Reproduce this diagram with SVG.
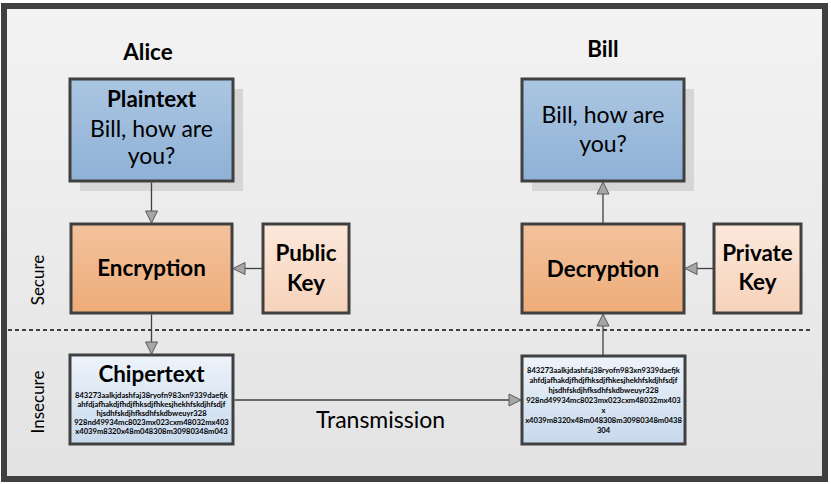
<svg xmlns="http://www.w3.org/2000/svg" width="831" height="484" viewBox="0 0 831 484">
<defs>
<linearGradient id="bg" x1="0" y1="0" x2="0" y2="1"><stop offset="0" stop-color="#f3f3f3"/><stop offset="1" stop-color="#e3e3e3"/></linearGradient>
<linearGradient id="blue" x1="0" y1="0" x2="0" y2="1"><stop offset="0" stop-color="#abc6e2"/><stop offset="1" stop-color="#8eb1d6"/></linearGradient>
<linearGradient id="orange" x1="0" y1="0" x2="0" y2="1"><stop offset="0" stop-color="#f3c29d"/><stop offset="1" stop-color="#eeac78"/></linearGradient>
<linearGradient id="peach" x1="0" y1="0" x2="0" y2="1"><stop offset="0" stop-color="#fce8da"/><stop offset="1" stop-color="#f6d2ba"/></linearGradient>
<linearGradient id="ice" x1="0" y1="0" x2="0" y2="1"><stop offset="0" stop-color="#edf3fa"/><stop offset="1" stop-color="#c8d9ed"/></linearGradient>
<marker id="ah" markerUnits="userSpaceOnUse" markerWidth="16" markerHeight="16" viewBox="0 0 16 16" refX="14" refY="8" orient="auto">
<path d="M2,2 L14,8 L2,14 Z" fill="#a6a6a6" stroke="#5a5a5a" stroke-width="1"/>
</marker>
<style>
.box{stroke:#404040;stroke-width:3}
.shadow{fill:#d6d6d6}
.t{font-family:Lato,"Open Sans",sans-serif;fill:#000;text-anchor:middle;font-size:23px}
.b{font-weight:bold;font-size:22.4px}
.small{font-family:Lato,"Open Sans",sans-serif;font-size:7.6px;font-weight:bold;text-anchor:middle;fill:#000}
.side{font-family:Lato,"Open Sans",sans-serif;font-size:17px;fill:#000;text-anchor:middle}
.conn{stroke:#404040;stroke-width:1.3;fill:none;marker-end:url(#ah)}
</style>
</defs>
<rect x="4" y="6" width="821" height="473" fill="url(#bg)" stroke="#404040" stroke-width="6"/>
<line x1="8" y1="330" x2="813" y2="330" stroke="#404040" stroke-width="2" stroke-dasharray="4,3"/>
<text class="side" transform="translate(44,280) rotate(-90)">Secure</text>
<text class="side" transform="translate(44,402) rotate(-90)">Insecure</text>
<text class="t b" x="148" y="60">Alice</text>
<text class="t b" x="603" y="57">Bill</text>
<g id="plaintext">
<rect class="shadow" x="80" y="89" width="163" height="102"/>
<rect class="box" x="70" y="79" width="163" height="102" fill="url(#blue)"/>
<text class="t b" x="151.5" y="107">Plaintext</text>
<text class="t" x="151.5" y="137">Bill, how are</text>
<text class="t" x="151.5" y="164">you?</text>
</g>
<g id="bill-msg">
<rect class="shadow" x="532" y="89" width="162" height="102"/>
<rect class="box" x="522" y="79" width="162" height="102" fill="url(#blue)"/>
<text class="t" x="603" y="123">Bill, how are</text>
<text class="t" x="603" y="152">you?</text>
</g>
<g id="encryption">
<rect class="box" x="71" y="224" width="161" height="89" fill="url(#orange)"/>
<text class="t b" x="151.5" y="276">Encryption</text>
</g>
<g id="public-key">
<rect class="box" x="263" y="224" width="86" height="89" fill="url(#peach)"/>
<text class="t b" x="306" y="261">Public</text>
<text class="t b" x="306" y="291">Key</text>
</g>
<g id="decryption">
<rect class="box" x="522" y="224" width="162" height="89" fill="url(#orange)"/>
<text class="t b" x="603" y="277">Decryption</text>
</g>
<g id="private-key">
<rect class="box" x="714" y="224" width="87" height="89" fill="url(#peach)"/>
<text class="t b" x="757.5" y="261">Private</text>
<text class="t b" x="757.5" y="290">Key</text>
</g>
<g id="chipertext">
<rect class="box" x="70" y="355" width="163" height="89" fill="url(#ice)"/>
<text class="t b" x="151.5" y="382">Chipertext</text>
<text class="small" x="151.5" y="398">843273aalkjdashfaj38ryofn983xn9339daefjk</text>
<text class="small" x="151.5" y="407">ahfdjafhakdjfhdjfhksdjfhkesjhekhfskdjhfsdjf</text>
<text class="small" x="151.5" y="416">hjsdhfskdjhfksdhfskdbweuyr328</text>
<text class="small" x="151.5" y="425">928nd49934mc8023mx023cxm48032mx403</text>
<text class="small" x="151.5" y="434">x4039m8320x48m048308m30980348m043</text>
</g>
<g id="received">
<rect class="box" x="522" y="356" width="163" height="88" fill="url(#ice)"/>
<text class="small" x="603.5" y="373">843273aalkjdashfaj38ryofn983xn9339daefjk</text>
<text class="small" x="603.5" y="383">ahfdjafhakdjfhdjfhksdjfhkesjhekhfskdjhfsdjf</text>
<text class="small" x="603.5" y="393">hjsdhfskdjhfksdhfskdbweuyr328</text>
<text class="small" x="603.5" y="403">928nd49934mc8023mx023cxm48032mx403</text>
<text class="small" x="603.5" y="413">x</text>
<text class="small" x="603.5" y="423">x4039m8320x48m048308m30980348m0438</text>
<text class="small" x="603.5" y="433">304</text>
</g>
<g id="connectors">
<line class="conn" x1="151.5" y1="182.5" x2="151.5" y2="223"/>
<line class="conn" x1="151.5" y1="314.5" x2="151.5" y2="354"/>
<line class="conn" x1="262" y1="268.5" x2="233" y2="268.5"/>
<line class="conn" x1="713" y1="268.5" x2="685" y2="268.5"/>
<line class="conn" x1="234.5" y1="400" x2="521" y2="400"/>
<line class="conn" x1="603" y1="355" x2="603" y2="314"/>
<line class="conn" x1="603" y1="223" x2="603" y2="182"/>
<text class="t" x="380.5" y="428">Transmission</text>
</g>
</svg>
